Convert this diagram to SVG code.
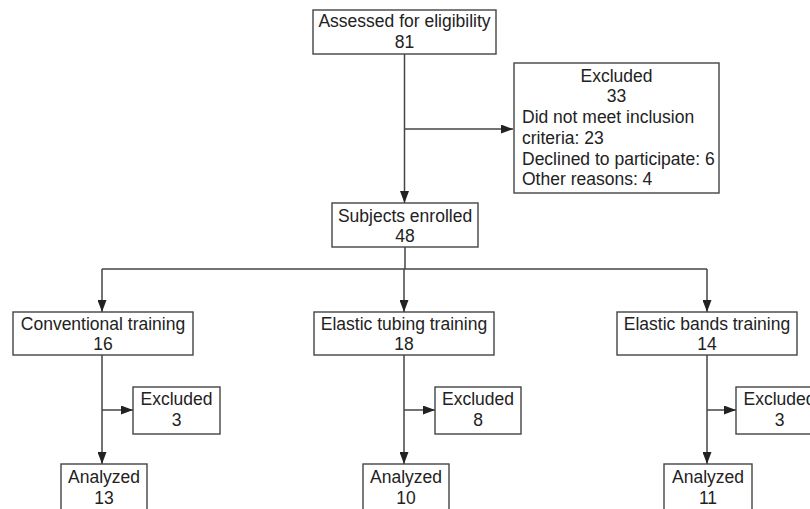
<svg xmlns="http://www.w3.org/2000/svg" width="810" height="509" viewBox="0 0 810 509">
<defs>
<marker id="ah" markerWidth="12" markerHeight="9" refX="12" refY="4.5" orient="auto" markerUnits="userSpaceOnUse">
<path d="M0,0 L12,4.5 L0,9 Z" fill="#222"/>
</marker>
<style>
.box{fill:#fff;stroke:#444;stroke-width:1.4}
.t{font-family:"Liberation Sans",Arial,sans-serif;font-size:17.5px;fill:#222}
.c{text-anchor:middle}
.ln{fill:none;stroke:#444;stroke-width:1.5}
.ar{fill:none;stroke:#444;stroke-width:1.5;marker-end:url(#ah)}
</style>
</defs>
<rect width="810" height="509" fill="#fff"/>
<g id="connectors">
<path class="ar" d="M404.5,54 V203"/>
<path class="ar" d="M404.5,129 H513"/>
<path class="ln" d="M405,247 V269"/>
<path class="ln" d="M102,269 H707"/>
<path class="ar" d="M102,269 V312"/>
<path class="ar" d="M404,269 V312"/>
<path class="ar" d="M707,269 V312"/>
<path class="ar" d="M102,355 V464"/>
<path class="ar" d="M102,410 H133"/>
<path class="ar" d="M404,355 V464"/>
<path class="ar" d="M404,410 H435"/>
<path class="ar" d="M707,355 V464"/>
<path class="ar" d="M707,410 H736"/>
</g>
<g id="assessed">
<rect class="box" x="313" y="10" width="183" height="44"/>
<text class="t c" x="404.5" y="27">Assessed for eligibility</text>
<text class="t c" x="404.5" y="48">81</text>
</g>
<g id="excluded-top">
<rect class="box" x="514" y="63" width="205" height="130"/>
<text class="t c" x="616.5" y="82">Excluded</text>
<text class="t c" x="616.5" y="102">33</text>
<text class="t" x="522" y="123">Did not meet inclusion</text>
<text class="t" x="522" y="144">criteria: 23</text>
<text class="t" x="522" y="165">Declined to participate: 6</text>
<text class="t" x="522" y="185">Other reasons: 4</text>
</g>
<g id="enrolled">
<rect class="box" x="332" y="203" width="146" height="44"/>
<text class="t c" x="405" y="222">Subjects enrolled</text>
<text class="t c" x="405" y="242">48</text>
</g>
<g id="conventional">
<rect class="box" x="13" y="312" width="180" height="43"/>
<text class="t c" x="103" y="330">Conventional training</text>
<text class="t c" x="103" y="350">16</text>
</g>
<g id="tubing">
<rect class="box" x="314" y="312" width="180" height="43"/>
<text class="t c" x="404" y="330">Elastic tubing training</text>
<text class="t c" x="404" y="350">18</text>
</g>
<g id="bands">
<rect class="box" x="617" y="312" width="180" height="43"/>
<text class="t c" x="707" y="330">Elastic bands training</text>
<text class="t c" x="707" y="350">14</text>
</g>
<g id="excluded-conv">
<rect class="box" x="133" y="387" width="87" height="47"/>
<text class="t c" x="176.5" y="405">Excluded</text>
<text class="t c" x="176.5" y="426">3</text>
</g>
<g id="excluded-tubing">
<rect class="box" x="435" y="387" width="86" height="47"/>
<text class="t c" x="478" y="405">Excluded</text>
<text class="t c" x="478" y="426">8</text>
</g>
<g id="excluded-bands">
<rect class="box" x="736" y="387" width="87" height="47"/>
<text class="t c" x="779.5" y="405">Excluded</text>
<text class="t c" x="779.5" y="426">3</text>
</g>
<g id="analyzed-conv">
<rect class="box" x="61" y="464" width="86" height="55"/>
<text class="t c" x="104" y="483">Analyzed</text>
<text class="t c" x="104" y="504">13</text>
</g>
<g id="analyzed-tubing">
<rect class="box" x="363" y="464" width="86" height="55"/>
<text class="t c" x="406" y="483">Analyzed</text>
<text class="t c" x="406" y="504">10</text>
</g>
<g id="analyzed-bands">
<rect class="box" x="664" y="464" width="88" height="55"/>
<text class="t c" x="708" y="483">Analyzed</text>
<text class="t c" x="708" y="504">11</text>
</g>
</svg>
